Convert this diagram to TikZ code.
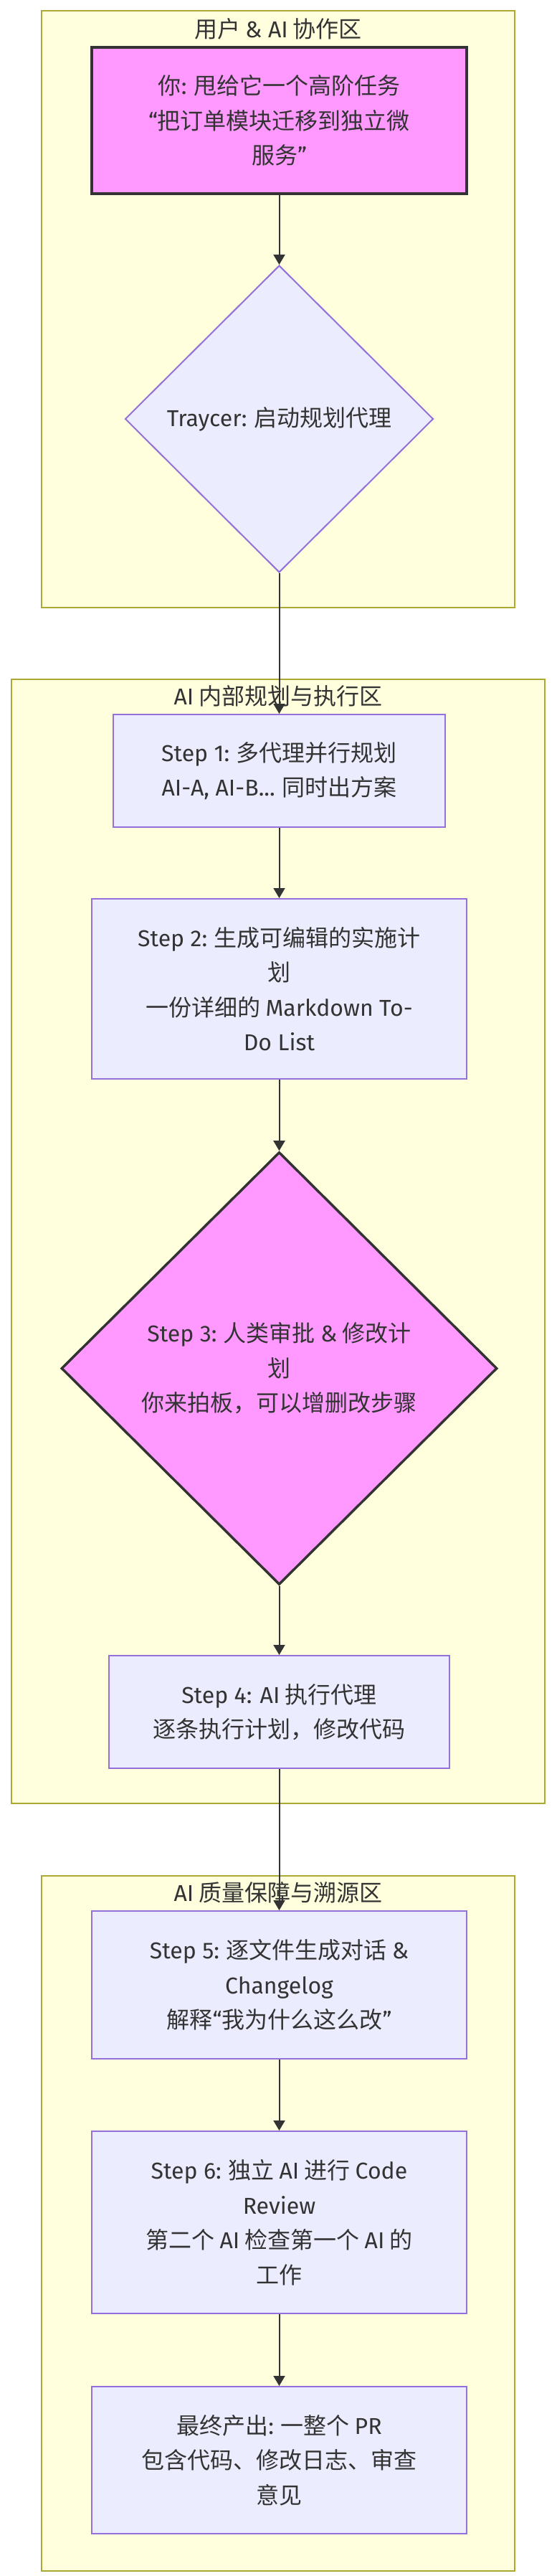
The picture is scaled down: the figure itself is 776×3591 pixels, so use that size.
\documentclass[tikz,border=0pt]{standalone}
\usepackage{fontspec}
\setmainfont{Noto Sans CJK SC}
\newfontfamily\ltnfont{Fira Sans}
\newcommand\ltn[1]{{\ltnfont #1}}
\usetikzlibrary{shapes.geometric,arrows.meta}
\definecolor{txt}{HTML}{333333}
\definecolor{clfill}{HTML}{FFFFDE}
\definecolor{clline}{HTML}{AAAA33}
\definecolor{nfill}{HTML}{ECECFF}
\definecolor{nline}{HTML}{9370DB}
\definecolor{mfill}{HTML}{FF99FF}
\begin{document}
\begin{tikzpicture}[x=1pt,y=-1pt,
  cluster/.style={rectangle,draw=clline,fill=clfill,line width=2pt,inner sep=0pt},
  ctitle/.style={text=txt,font=\fontsize{32}{48}\selectfont,inner sep=0pt},
  box/.style={rectangle,draw=nline,fill=nfill,line width=2pt,text=txt,align=center,
    font=\fontsize{32}{48.5}\selectfont,inner sep=0pt},
  hot/.style={fill=mfill,draw=txt,line width=3.5pt},
  dia/.style={diamond,draw=nline,fill=nfill,line width=2pt,text=txt,align=center,
    font=\fontsize{32}{48.5}\selectfont,inner sep=0pt},
  arr/.style={draw=txt,line width=2pt,-{Triangle[width=16pt,length=14pt]}}
]
\useasboundingbox (0,0) rectangle (776,3591);
\fill[white] (0,0) rectangle (776,3591);

% clusters
\node[cluster,minimum width=660pt,minimum height=832pt] (c1) at (388,431) {};
\node[ctitle] (t1) at (388,40) {用户 \ltn{\& AI} 协作区};
\node[cluster,minimum width=744pt,minimum height=1567pt] (c2) at (388,1730.5) {};
\node[ctitle] (t2) at (388,970) {\ltn{AI} 内部规划与执行区};
\node[cluster,minimum width=660pt,minimum height=969pt] (c3) at (388,3099.5) {};
\node[ctitle] (t3) at (388,2638) {\ltn{AI} 质量保障与溯源区};

% nodes
\node[box,hot,minimum width=523pt,minimum height=204pt] (A) at (389.5,168)
  {你\ltn{:} 甩给它一个高阶任务\\\ltn{“}把订单模块迁移到独立微\\服务\ltn{”}};
\node[dia,minimum width=430pt,minimum height=428pt] (B) at (389.5,584)
  {\ltn{Traycer:} 启动规划代理};
\node[box,minimum width=463pt,minimum height=157pt] (S1) at (389.5,1074.5)
  {\ltn{Step 1:} 多代理并行规划\\\ltn{AI-A, AI-B...} 同时出方案};
\node[box,minimum width=523pt,minimum height=251pt] (S2) at (389.5,1378.5)
  {\ltn{Step 2:} 生成可编辑的实施计\\划\\一份详细的 \ltn{Markdown To-}\\\ltn{Do List}};
\node[dia,hot,minimum width=608pt,minimum height=603pt] (S3) at (389.5,1907.5)
  {\ltn{Step 3:} 人类审批 \ltn{\&} 修改计\\划\\你来拍板，可以增删改步骤};
\node[box,minimum width=475pt,minimum height=157pt] (S4) at (389.5,2386.5)
  {\ltn{Step 4: AI} 执行代理\\逐条执行计划，修改代码};
\node[box,minimum width=523pt,minimum height=206pt] (S5) at (389.5,2767)
  {\ltn{Step 5:} 逐文件生成对话 \ltn{\&}\\\ltn{Changelog}\\解释\ltn{“}我为什么这么改\ltn{”}};
\node[box,minimum width=523pt,minimum height=254pt] (S6) at (389.5,3098)
  {\ltn{Step 6:} 独立 \ltn{AI} 进行 \ltn{Code}\\\ltn{Review}\\第二个 \ltn{AI} 检查第一个 \ltn{AI} 的\\工作};
\node[box,minimum width=523pt,minimum height=205pt] (F) at (389.5,3429.5)
  {最终产出\ltn{:} 一整个 \ltn{PR}\\包含代码、修改日志、审查\\意见};

% connectors
\draw[arr] (A) -- (B);
\draw[arr] (B) -- (S1);
\draw[arr] (S1) -- (S2);
\draw[arr] (S2) -- (S3);
\draw[arr] (S3) -- (S4);
\draw[arr] (S4) -- (S5);
\draw[arr] (S5) -- (S6);
\draw[arr] (S6) -- (F);
\end{tikzpicture}
\end{document}
